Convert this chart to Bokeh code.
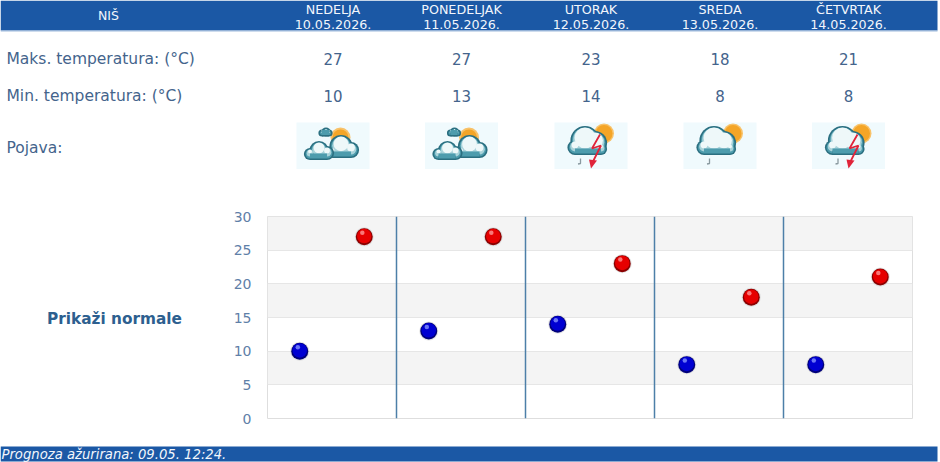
from bokeh.plotting import figure
from bokeh.models import FixedTicker, Range1d
from bokeh.embed import file_html
from bokeh.resources import INLINE

station = "NIŠ"
days = ["NEDELJA", "PONEDELJAK", "UTORAK", "SREDA", "ČETVRTAK"]
dates = ["10.05.2026.", "11.05.2026.", "12.05.2026.", "13.05.2026.", "14.05.2026."]
tmax = [27, 27, 23, 18, 21]
tmin = [10, 13, 14, 8, 8]
icons = ["partly", "partly", "storm", "rain", "storm"]
row_labels = ["Maks. temperatura: (°C)", "Min. temperatura: (°C)", "Pojava:"]
y_ticks = [0, 5, 10, 15, 20, 25, 30]
footer_text = "Prognoza ažurirana:  09.05. 12:24."
normals_text = "Prikaži normale"

FONT = "DejaVu Sans"
HEAD = "#1b58a5"
TXT = "#44648c"
HEAD_TXT = "#f2f6fc"
COL_X = [332.5, 461, 590.5, 719.5, 848]


def at(y):
    return {"position": "absolute", "left": "0px", "top": f"{y}px"}


def bare(w, h, yr, y0):
    f = figure(width=w, height=h, x_range=Range1d(0, w), y_range=Range1d(*yr),
               x_axis_type=None, y_axis_type=None, toolbar_location=None,
               output_backend="svg", min_border=0, outline_line_color=None, styles=at(y0))
    f.grid.visible = False
    return f


top = bare(940, 190, (190, 0), 0)
top.quad(left=0, right=937, top=0, bottom=30, fill_color=HEAD, line_color=None)
top.segment(0, 30.5, 937, 30.5, line_color="#9db9dc", line_width=1)


def put(f, x, y, s, size, color, align="center", style="normal"):
    f.text(x=[x], y=[y], text=[s], text_font_size=f"{size}px", text_color=color, text_align=align,
           text_baseline="middle", text_font={"value": FONT}, text_font_style=style)


put(top, 108, 15, station, 12.5, HEAD_TXT)
for x, d, dt, a, b in zip(COL_X, days, dates, tmax, tmin):
    put(top, x, 8.5, d, 12.7, HEAD_TXT)
    put(top, x, 23.5, dt, 12.7, HEAD_TXT)
    put(top, x, 58, str(a), 15, TXT)
    put(top, x, 95, str(b), 15, TXT)
for y, s in zip([58.5, 95.5, 147], row_labels):
    put(top, 6, y, s, 15.5, TXT, align="left")


def cloud(cx, base, lobes):
    """lobes: (dx, r) relative to cx, resting on the base line."""
    for grow, col, dy in [(1.6, "#2b6f80", 0), (0, "#4d9cad", 0), (-1.2, "#a9d3da", -0.8), (-2.6, "#eef8f9", -2.6)]:
        for dx, r in lobes:
            top.circle(x=cx + dx, y=base - r + dy, radius=max(r + grow, 0.5), fill_color=col, line_color=None)
    x0 = cx + min(d for d, r in lobes)
    x1 = cx + max(d for d, r in lobes)
    top.quad(left=x0, right=x1, top=base - 3, bottom=base + 1.5, fill_color="#2b6f80", line_color=None)
    top.quad(left=x0, right=x1, top=base - 5, bottom=base, fill_color="#4d9cad", line_color=None)


def sun(x, y, r, rays=False):
    top.circle(x=x, y=y, radius=r + (1 if rays else 0.5), fill_color="#f8c26a", line_color=None)
    top.circle(x=x, y=y, radius=r - 1, fill_color="#f4a527", line_color=None)


def bolt(x, y):
    top.line([x + 5, x - 3, x + 6, x - 2], [y - 14, y, y - 3, y + 13], line_color="#e0243a", line_width=1.8)
    top.patch([x - 6, x + 2, x - 4], [y + 11, y + 12, y + 20], fill_color="#e0243a", line_color=None)


def drop(x, y):
    top.line([x + 1.5, x + 1.5, x - 1], [y - 3, y + 2, y + 2.5], line_color="#8a9aa0", line_width=1.3)


for x, kind in zip(COL_X, icons):
    top.quad(left=x - 36.5, right=x + 36.5, top=122, bottom=168.5, fill_color="#f0fafd", line_color=None)
    if kind == "partly":
        sun(x + 7.5, 137, 9, True)
        cloud(x - 7, 134.5, [(0, 3), (-4, 2), (3, 2)])
        cloud(x + 9, 156, [(-1, 10), (-9, 4), (9, 6.5)])
        cloud(x - 15, 158, [(1, 8), (-8, 4.5), (9, 5.5)])
    else:
        sun(x + 13, 133, 9.5)
        cloud(x - 4, 153, [(-2, 13), (-12, 6), (8, 10.5), (14, 4.5)])
        drop(x - 12, 161)
        if kind == "storm":
            bolt(x + 4, 148)

chart = figure(width=940, height=255, x_range=Range1d(0, 5), y_range=Range1d(0, 30),
               x_axis_type=None, toolbar_location=None, output_backend="svg",
               min_border_left=267, min_border_right=28, min_border_top=26, min_border_bottom=27,
               outline_line_color="#dedede", background_fill_color="white", styles=at(190))
chart.yaxis.ticker = FixedTicker(ticks=y_ticks)
chart.yaxis.axis_line_color = None
chart.yaxis.major_tick_line_color = None
chart.yaxis.minor_tick_line_color = None
chart.yaxis.major_label_text_color = "#5f80a8"
chart.yaxis.major_label_text_font = FONT
chart.yaxis.major_label_text_font_size = "14px"
chart.yaxis.major_label_standoff = 10
chart.xgrid.visible = False
chart.ygrid.ticker = FixedTicker(ticks=y_ticks)
chart.ygrid.grid_line_color = "#e6e6e6"
chart.ygrid.band_fill_color = "#f4f4f4"
chart.ygrid.band_fill_alpha = 1

chart.segment(x0=list(range(1, len(days))), y0=0, x1=list(range(1, len(days))), y1=y_ticks[-1],
              line_color="#4d7fa8", line_width=1.5)

xs_min = [i + 0.25 for i in range(len(tmin))]
xs_max = [i + 0.75 for i in range(len(tmax))]


def balls(xs, ys, edge, body, light):
    chart.scatter(xs, ys, size=19, fill_color="#bbbbbb", fill_alpha=0.4, line_color=None)
    chart.scatter(xs, ys, size=17, fill_color=edge, line_color=None)
    chart.scatter(xs, [v + 0.1 for v in ys], size=14.5, fill_color=body, line_color=None)
    chart.scatter([v - 0.015 for v in xs], [v + 0.6 for v in ys], size=4.5, fill_color=light, fill_alpha=0.75, line_color=None)


balls(xs_min, tmin, "#00007a", "#0000d2", "#8f9cff")
balls(xs_max, tmax, "#8a0000", "#e60000", "#ffa0a0")

note = bare(215, 40, (40, 0), 298)
put(note, 114, 20, normals_text, 15.3, "#2d5f8f", style="bold")

foot = bare(940, 17, (17, 0), 445)
foot.quad(left=0, right=937, top=1, bottom=16, fill_color=HEAD, line_color=None)
put(foot, 1, 8.5, footer_text, 13.2, HEAD_TXT, align="left", style="italic")

open("out.html", "w").write(file_html([top, chart, note, foot], INLINE))
